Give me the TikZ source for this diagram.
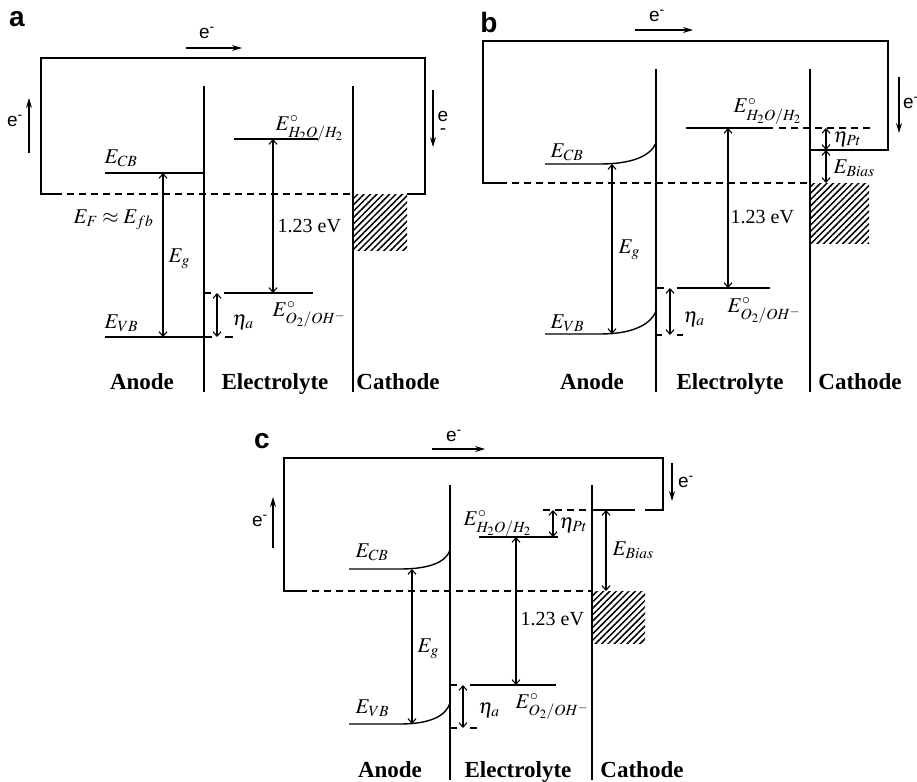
\documentclass[tikz,border=0pt]{standalone}
\usepackage{mathptmx}
\usepackage{fontspec}
\setmainfont{Liberation Serif}
\newfontfamily\elfont{Liberation Sans}
\usetikzlibrary{arrows.meta,patterns.meta}

\begin{document}
\begin{tikzpicture}[x=1pt,y=-1pt,line width=1.4pt,
  fermi/.style={dash pattern=on 7pt off 5pt},
  gap/.style={<->,>={Straight Barb[length=4.5pt,width=8pt]},line width=1.1pt},
  flow/.style={->,>={Stealth[length=10pt,width=6pt]},line width=1.1pt},
  sym/.style={font=\fontsize{21}{23}\selectfont,inner sep=0pt,anchor=base west},
  volt/.style={font=\fontsize{20}{22}\selectfont,inner sep=0pt,anchor=base west},
  elec/.style={font=\elfont\fontsize{19}{21}\selectfont,inner sep=0pt},
  part/.style={font=\bfseries\fontsize{23}{25}\selectfont,inner sep=0pt,anchor=base},
  panel/.style={font=\elfont\bfseries\fontsize{28}{30}\selectfont,inner sep=0pt},
  hatch/.style={pattern={Lines[angle=45,distance=4.5pt,line width=1.5pt]}}
]
\useasboundingbox (0,0) rectangle (917,781);

% ---------------- panel a : flat bands ----------------
\node[panel] (pa) at (17,19) {a};
\draw (55,194) -- (41,194) -- (41,58) -- (425,58) -- (425,194) -- (407,194);
\draw[fermi] (55,194) -- (353,194);
\fill[hatch] (353,194) rectangle (407,250);
\draw (204,86) -- (204,392);
\draw (353,86) -- (353,392);

% circuit electrons
\node[elec] (ea1) at (207,33) {e\textsuperscript{-}};
\coordinate (fa1) at (186,48); \coordinate (fa2) at (242,48);
\draw[flow] (fa1) -- (fa2);
\node[elec] (ea2) at (15,121) {e\textsuperscript{-}};
\coordinate (fa3) at (29,153); \coordinate (fa4) at (29,98);
\draw[flow] (fa3) -- (fa4);
\node[elec] (ea3) at (443,116) {e};
\node[elec] (ea4) at (443,132) {-};
\coordinate (fa5) at (433,90); \coordinate (fa6) at (433,147);
\draw[flow] (fa5) -- (fa6);

% levels
\draw (105,173) -- (204,173);
\draw (105,337) -- (212,337);
\draw (225,337) -- (233,337);
\draw (234,139) -- (318,139);
\draw (204,293) -- (211,293);
\draw (224,293) -- (313,293);

\coordinate (cba) at (163,173); \coordinate (vba) at (163,337);
\coordinate (hya) at (273,139); \coordinate (oxa) at (273,293);
\coordinate (eta1) at (217,293); \coordinate (eta2) at (217,337);
\draw[gap] (cba) -- (vba);
\draw[gap] (hya) -- (oxa);
\draw[gap] (eta1) -- (eta2);

\node[sym] (ecba) at (104,163) {$E_{CB}$};
\node[sym] (evba) at (104,328) {$E_{VB}$};
\node[sym] (ega) at (168,262) {$E_g$};
\node[sym] (efa) at (73,223) {$E_F \approx E_{fb}$};
\node[volt] (va) at (277,232) {1.23 eV};
\node[sym] (naa) at (232,325) {$\eta_a$};
\node[sym] (oa) at (272,316) {$E^{\circ}_{O_2/OH^-}$};
\node[sym] (ha) at (275,130) {$E^{\circ}_{H_2O/H_2}$};

\node[part] (ana) at (142,389) {Anode};
\node[part] (ela) at (275,389) {Electrolyte};
\node[part] (caa) at (398,389) {Cathode};

% ---------------- panel b : bent bands ----------------
\node[panel] (pb) at (489,22) {b};
\draw (500,183) -- (483,183) -- (483,41) -- (888,41) -- (888,150) -- (810,150);
\draw[fermi] (500,183) -- (810,183);
\fill[hatch] (810,183) rectangle (869,243);
\draw (656,69) -- (656,392);
\draw (810,69) -- (810,392);

\node[elec] (eb1) at (657,16) {e\textsuperscript{-}};
\coordinate (fb1) at (635,30); \coordinate (fb2) at (693,30);
\draw[flow] (fb1) -- (fb2);
\node[elec] (eb2) at (911,103) {e\textsuperscript{-}};
\coordinate (fb3) at (899,77); \coordinate (fb4) at (899,133);
\draw[flow] (fb3) -- (fb4);

\draw (545,164) -- (600,164) .. controls (630,164) and (650,157) .. (656,143);
\draw (545,334) -- (600,334) .. controls (630,334) and (650,326) .. (656,311);
\draw (686,128) -- (773,128);
\draw[fermi] (779,128) -- (873,128);
\draw (656,288) -- (664,288);
\draw (677,288) -- (770,288);
\draw (656,335) -- (662,335);
\draw (677,335) -- (683,335);

\coordinate (cbb) at (612,164); \coordinate (vbb) at (612,334);
\coordinate (hyb) at (728,128); \coordinate (oxb) at (728,288);
\coordinate (etb1) at (670,288); \coordinate (etb2) at (670,335);
\coordinate (ptb1) at (826,128); \coordinate (ptb2) at (826,150);
\coordinate (bib) at (826,183);
\draw[gap] (cbb) -- (vbb);
\draw[gap] (hyb) -- (oxb);
\draw[gap] (etb1) -- (etb2);
\draw[gap] (ptb1) -- (ptb2);
\draw[gap] (ptb2) -- (bib);

\node[sym] (ecbb) at (550,157) {$E_{CB}$};
\node[sym] (evbb) at (550,328) {$E_{VB}$};
\node[sym] (egb) at (618,253) {$E_g$};
\node[volt] (vb) at (730,223) {1.23 eV};
\node[sym] (nab) at (683,322) {$\eta_a$};
\node[sym] (ob) at (727,312) {$E^{\circ}_{O_2/OH^-}$};
\node[sym] (hb) at (733,113) {$E^{\circ}_{H_2O/H_2}$};
\node[sym] (npb) at (833,142) {$\eta_{Pt}$};
\node[sym] (bsb) at (833,173) {$E_{Bias}$};

\node[part] (anb) at (592,389) {Anode};
\node[part] (elb) at (730,389) {Electrolyte};
\node[part] (cab) at (860,389) {Cathode};

% ---------------- panel c : bias ----------------
\node[panel] (pc) at (262,441) {c};
\draw (300,591) -- (284,591) -- (284,458) -- (663,458) -- (663,510) -- (645,510);
\draw[fermi] (300,591) -- (592,591);
\fill[hatch] (592,591) rectangle (645,643);
\draw (450,485) -- (450,780);
\draw (592,485) -- (592,780);

\node[elec] (ec1) at (454,436) {e\textsuperscript{-}};
\coordinate (fc1) at (432,449); \coordinate (fc2) at (485,449);
\draw[flow] (fc1) -- (fc2);
\node[elec] (ec2) at (260,521) {e\textsuperscript{-}};
\coordinate (fc3) at (273,548); \coordinate (fc4) at (273,497);
\draw[flow] (fc3) -- (fc4);
\node[elec] (ec3) at (686,482) {e\textsuperscript{-}};
\coordinate (fc5) at (672,463); \coordinate (fc6) at (672,501);
\draw[flow] (fc5) -- (fc6);

\draw (349,569) -- (400,569) .. controls (430,569) and (446,562) .. (450,550);
\draw (349,724) -- (400,724) .. controls (430,724) and (446,716) .. (450,703);
\draw[fermi] (543,510) -- (592,510);
\draw (592,510) -- (635,510);
\draw (479,537) -- (558,537);
\draw (450,685) -- (457,685);
\draw (470,685) -- (556,685);
\draw (450,728) -- (457,728);
\draw (470,728) -- (477,728);

\coordinate (cbc) at (412,569); \coordinate (vbc) at (412,724);
\coordinate (hyc) at (516,537); \coordinate (oxc) at (516,685);
\coordinate (etc1) at (463,685); \coordinate (etc2) at (463,728);
\coordinate (ptc1) at (553,510); \coordinate (ptc2) at (553,537);
\coordinate (bic1) at (606,510); \coordinate (bic2) at (606,591);
\draw[gap] (cbc) -- (vbc);
\draw[gap] (hyc) -- (oxc);
\draw[gap] (etc1) -- (etc2);
\draw[gap] (ptc1) -- (ptc2);
\draw[gap] (bic1) -- (bic2);

\node[sym] (ecbc) at (355,557) {$E_{CB}$};
\node[sym] (evbc) at (355,713) {$E_{VB}$};
\node[sym] (egc) at (417,652) {$E_g$};
\node[volt] (vc) at (520,625) {1.23 eV};
\node[sym] (nac) at (478,713) {$\eta_a$};
\node[sym] (oc) at (515,708) {$E^{\circ}_{O_2/OH^-}$};
\node[sym] (hc) at (463,525) {$E^{\circ}_{H_2O/H_2}$};
\node[sym] (npc) at (559,528) {$\eta_{Pt}$};
\node[sym] (bsc) at (612,555) {$E_{Bias}$};

\node[part] (anc) at (390,777) {Anode};
\node[part] (elc) at (518,777) {Electrolyte};
\node[part] (cac) at (642,777) {Cathode};
\end{tikzpicture}
\end{document}
